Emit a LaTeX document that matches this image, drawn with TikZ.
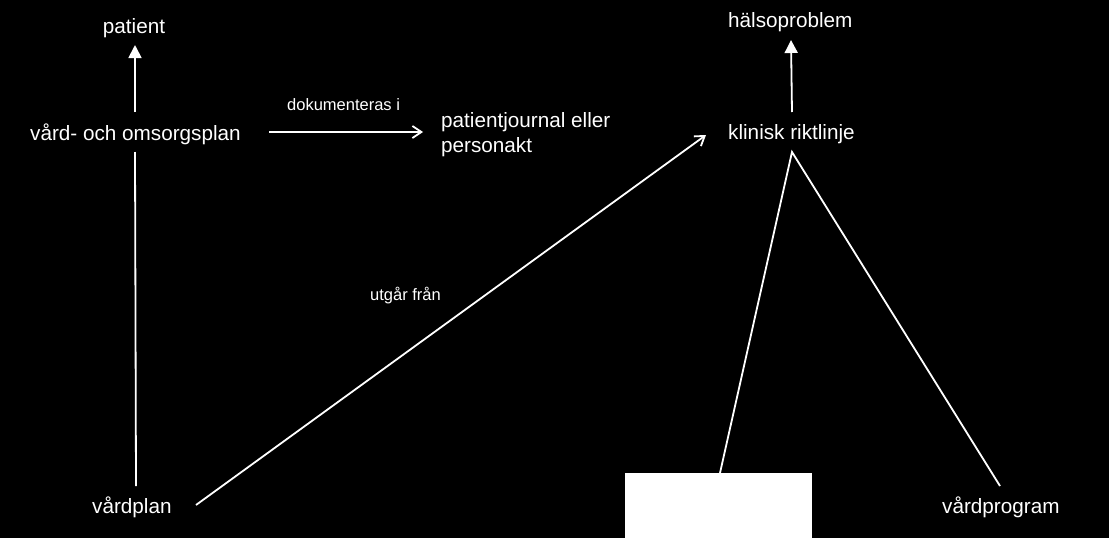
\documentclass[tikz,border=0pt]{standalone}
\usepackage{fontspec}
\setmainfont{Liberation Sans}
\usetikzlibrary{arrows.meta}
\begin{document}
\begin{tikzpicture}[x=1pt,y=-1pt,
  lbl/.style={text=white,inner sep=0pt,font=\fontsize{20.7}{25}\selectfont},
  small/.style={text=white,inner sep=0pt,font=\fontsize{16.5}{20}\selectfont},
  conn/.style={draw=white,line width=1.8pt},
  fullarrow/.style={conn,-{Triangle[width=13pt,length=13pt]}},
  openarrow/.style={conn,-{Straight Barb[width=12pt,length=9pt,line width=1.8pt]}}]
\fill[black] (0,0) rectangle (1109,538);
\useasboundingbox (0,0) rectangle (1109,538);
% nodes
\node[lbl] (patient) at (134,28.5) {patient};
\node[lbl,anchor=west] (vop) at (30,134.5) {vård- och omsorgsplan};
\node[lbl,anchor=west,align=left] (pj) at (441,134.5) {patientjournal eller\\personakt};
\node[lbl,anchor=west] (halso) at (728,22.5) {hälsoproblem};
\node[lbl,anchor=west] (klin) at (728,134.5) {klinisk riktlinje};
\node[lbl,anchor=west] (vplan) at (92,507.5) {vårdplan};
\node[lbl,anchor=west] (vprog) at (942,507.5) {vårdprogram};
\node[fill=white,inner sep=0pt,minimum width=187pt,minimum height=65pt,anchor=north west] (box) at (625,473) {};
\node[small,anchor=west] (dok) at (287,105) {dokumenteras i};
\node[small,anchor=west] (utg) at (370,296) {utgår från};
% connector end points
\coordinate (vopTop) at (135,112);
\coordinate (patBot) at (135,45);
\coordinate (vopBot) at (135,152);
\coordinate (vplanTop) at (136,486);
\coordinate (vopRight) at (269,132);
\coordinate (pjLeft) at (423,132);
\coordinate (vplanRight) at (196,505);
\coordinate (klinLeft) at (706,135);
\coordinate (klinTop) at (792,112);
\coordinate (halsoBot) at (791,40);
\coordinate (klinBot) at (792,152);
\coordinate (boxTop) at (720,473);
\coordinate (vprogTop) at (1000,486);
% connectors
\draw[fullarrow] (vopTop) -- (patBot);
\draw[conn] (vplanTop) -- (vopBot);
\draw[openarrow] (vopRight) -- (pjLeft);
\draw[openarrow] (vplanRight) -- (klinLeft);
\draw[fullarrow] (klinTop) -- (halsoBot);
\draw[conn] (boxTop) -- (klinBot) -- (vprogTop);
\end{tikzpicture}
\end{document}
